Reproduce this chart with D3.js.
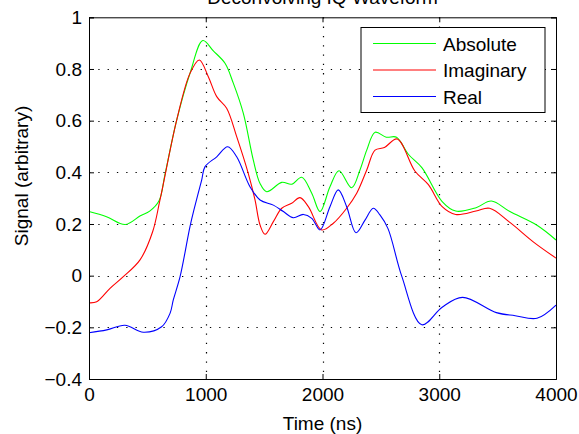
<!DOCTYPE html>
<html>
<head>
<meta charset="utf-8">
<script src="https://cdn.jsdelivr.net/npm/d3@7"></script>
<style>
    body { margin: 0; background: #fff; }
    svg text { font-family: "Liberation Sans", Arial, Helvetica, sans-serif; fill: #000; }
</style>
</head>
<body>
<div id="chart"></div>
<script>
// values, [time (ns), signal]
const absolute = [[0, 0.248], [150, 0.228], [310, 0.198], [440, 0.232], [520, 0.25], [600, 0.29], [650, 0.39],
    [750, 0.60], [865, 0.783], [975, 0.91], [1065, 0.87], [1165, 0.822], [1236, 0.745], [1322, 0.628],
    [1407, 0.448], [1465, 0.357], [1522, 0.325], [1651, 0.361], [1736, 0.354], [1822, 0.381], [1908, 0.319],
    [1979, 0.248], [2064, 0.344], [2141, 0.406], [2250, 0.340], [2321, 0.409], [2379, 0.486], [2451, 0.555],
    [2546, 0.536], [2634, 0.536], [2735, 0.47], [2851, 0.418], [3025, 0.287], [3141, 0.250], [3315, 0.263],
    [3446, 0.289], [3605, 0.248], [3837, 0.195], [4000, 0.138]];

const imaginary = [[0, -0.105], [66, -0.101], [180, -0.049], [294, -0.004], [437, 0.061], [545, 0.17],
    [608, 0.293], [751, 0.602], [865, 0.783], [945, 0.835], [1022, 0.770], [1094, 0.693], [1179, 0.648],
    [1265, 0.538], [1364, 0.396], [1422, 0.293], [1465, 0.196], [1508, 0.160], [1579, 0.209], [1651, 0.261],
    [1736, 0.28], [1807, 0.302], [1879, 0.267], [1993, 0.177], [2093, 0.203], [2207, 0.261], [2293, 0.319],
    [2379, 0.409], [2450, 0.486], [2530, 0.496], [2640, 0.529], [2791, 0.405], [2907, 0.352], [3025, 0.267],
    [3141, 0.237], [3315, 0.250], [3431, 0.261], [3605, 0.206], [3808, 0.130], [4000, 0.068]];

const real = [[0, -0.221], [152, -0.21], [308, -0.192], [465, -0.219], [622, -0.198], [694, -0.146],
    [722, -0.094], [780, -0.004], [865, 0.19], [902, 0.26], [965, 0.37], [994, 0.422], [1094, 0.46],
    [1188, 0.499], [1265, 0.46], [1379, 0.344], [1465, 0.293], [1579, 0.273], [1665, 0.248], [1750, 0.224],
    [1836, 0.237], [1908, 0.222], [1979, 0.177], [2064, 0.267], [2135, 0.332], [2207, 0.267], [2287, 0.166],
    [2364, 0.215], [2435, 0.261], [2492, 0.235], [2561, 0.182], [2678, -0.001], [2851, -0.19], [3025, -0.122],
    [3199, -0.084], [3489, -0.143], [3650, -0.155], [3837, -0.165], [4000, -0.114]];

const seriesNames = ["Absolute", "Imaginary", "Real"];
const seriesColors = ["#00ff00", "#ff0000", "#0000ff"];
const xTicks = [0, 1000, 2000, 3000, 4000];
const yTicks = [-0.4, -0.2, 0, 0.2, 0.4, 0.6, 0.8, 1];
const titleText = "Deconvolving IQ Waveform";

const width = 579, height = 434;
const margin = {top: 17.3, right: 23, bottom: 55, left: 89};

const svg = d3.select("#chart").append("svg")
    .attr("width", width)
    .attr("height", height);

const x = d3.scaleLinear().domain([0, 4000]).range([margin.left, width - margin.right]);
const y = d3.scaleLinear().domain([-0.4, 1]).range([height - margin.bottom, margin.top]);

const fmt = d => d < 0 ? "\u2212" + Math.abs(d) : String(d);

// dotted grid
const grid = svg.append("g").attr("class", "grid")
    .attr("stroke", "#000").attr("stroke-width", 1.2).attr("stroke-dasharray", "1.3,8");
grid.selectAll("line.gx").data(xTicks.slice(1, -1)).join("line")
    .attr("class", "gx")
    .attr("x1", d => Math.round(x(d)) + 0.5).attr("x2", d => Math.round(x(d)) + 0.5)
    .attr("y1", y(1)).attr("y2", y(-0.4));
grid.selectAll("line.gy").data(yTicks.slice(1, -1)).join("line")
    .attr("class", "gy")
    .attr("y1", d => Math.round(y(d)) + 0.5).attr("y2", d => Math.round(y(d)) + 0.5)
    .attr("x1", x(0)).attr("x2", x(4000));

// curves
const line = d3.line()
    .x(d => x(d[0]))
    .y(d => y(d[1]))
    .curve(d3.curveCatmullRom.alpha(0.5));

[absolute, imaginary, real].forEach((s, i) => {
    svg.append("path")
        .datum(s)
        .attr("fill", "none")
        .attr("stroke", seriesColors[i])
        .attr("stroke-width", 1.1)
        .attr("d", line);
});

// axes on all four sides, ticks pointing in
const tl = 5;
svg.append("g").attr("transform", `translate(0,${y(-0.4)})`)
    .call(d3.axisBottom(x).tickValues(xTicks).tickSize(-tl).tickPadding(9).tickFormat(d => d));
svg.append("g").attr("transform", `translate(0,${y(1)})`)
    .call(d3.axisTop(x).tickValues(xTicks).tickSize(-tl).tickFormat(""));
svg.append("g").attr("transform", `translate(${x(0)},0)`)
    .call(d3.axisLeft(y).tickValues(yTicks).tickSize(-tl).tickPadding(7).tickFormat(fmt));
svg.append("g").attr("transform", `translate(${x(4000)},0)`)
    .call(d3.axisRight(y).tickValues(yTicks).tickSize(-tl).tickFormat(""));

svg.selectAll(".domain").attr("stroke", "#000").attr("stroke-width", 1);
svg.selectAll(".tick line").attr("stroke", "#000");
svg.selectAll(".tick text").attr("font-size", 19).style("font-family", "Liberation Sans, Arial, sans-serif");

// labels
svg.append("text")
    .attr("x", (x(0) + x(4000)) / 2)
    .attr("y", 430)
    .attr("text-anchor", "middle")
    .attr("font-size", 19)
    .text("Time (ns)");

svg.append("text")
    .attr("transform", "translate(28,176) rotate(-90)")
    .attr("text-anchor", "middle")
    .attr("font-size", 19)
    .text("Signal (arbitrary)");

svg.append("text")
    .attr("x", (x(0) + x(4000)) / 2)
    .attr("y", 3.5)
    .attr("text-anchor", "middle")
    .attr("font-size", 19)
    .text(titleText);

// legend
const legend = svg.append("g").attr("transform", "translate(361,27.5)");
legend.append("rect")
    .attr("width", 184).attr("height", 85)
    .attr("fill", "#fff").attr("stroke", "#000").attr("stroke-width", 1);
seriesNames.forEach((name, i) => {
    const ly = 16 + i * 26.5;
    legend.append("line")
        .attr("x1", 12).attr("x2", 75)
        .attr("y1", ly).attr("y2", ly)
        .attr("stroke", seriesColors[i]).attr("stroke-width", 1.1);
    legend.append("text")
        .attr("x", 82).attr("y", ly + 7)
        .attr("font-size", 19)
        .text(name);
});
</script>
</body>
</html>
